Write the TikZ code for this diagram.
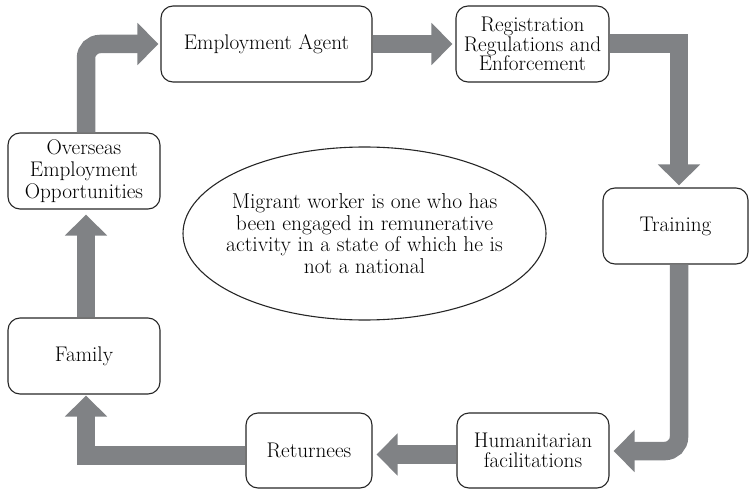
\documentclass[tikz,border=0pt]{standalone}
\usetikzlibrary{arrows.meta,calc,shapes.geometric}
\definecolor{arrowgray}{RGB}{128,130,133}
\begin{document}
\begin{tikzpicture}[x=1pt,y=-1pt,
  box/.style={draw=black!85, line width=1.1pt, rounded corners=12pt, align=center,
    inner sep=0pt, font=\fontsize{21.2}{21.7}\selectfont},
  bigarrow/.style={draw=arrowgray, line width=18.5pt,
    -{Triangle[length=21pt,width=41pt]}}
]
\useasboundingbox (0,0) rectangle (749,489);
\node[box, minimum width=211pt, minimum height=76pt] (agent) at (266.5,44) {Employment Agent};
\node[box, minimum width=153pt, minimum height=76pt, font=\fontsize{21.2}{19.5}\selectfont] (reg) at (532.5,44) {Registration\\Regulations and\\Enforcement};
\node[box, minimum width=145pt, minimum height=76pt] (train) at (675.5,226) {Training};
\node[box, minimum width=152pt, minimum height=75pt, font=\fontsize{21.2}{20}\selectfont] (hum) at (533,450.5) {Humanitarian\\facilitations};
\node[box, minimum width=126pt, minimum height=75pt] (ret) at (309,450.5) {Returnees};
\node[box, minimum width=152pt, minimum height=76pt] (fam) at (84,356) {Family};
\node[box, minimum width=152pt, minimum height=76pt] (over) at (84,171) {Overseas\\Employment\\Opportunities};
\node[ellipse, draw=black!85, line width=1.1pt, minimum width=363pt, minimum height=173pt,
  inner xsep=-40pt, inner ysep=0pt, align=center, font=\fontsize{21.5}{21.7}\selectfont] (def) at (364.5,233.5)
  {Migrant worker is one who has\\been engaged in remunerative\\activity in a state of which he is\\not a national};

\draw[bigarrow, rounded corners=14pt] ($(over.north)+(2,0)$) |- ($(agent.west)+(-2,0)$);
\draw[bigarrow] (agent.east) -- ($(reg.west)+(-3,0)$);
\draw[bigarrow] ($(reg.east)+(0,-0.5)$) -| ($(train.north)+(3.5,-2)$);
\draw[bigarrow, rounded corners=14pt] ($(train.south)+(3.5,0)$) |- ($(hum.east)+(4,0.5)$);
\draw[bigarrow] ($(hum.west)+(0,4)$) -- ($(ret.east)+(4,4)$);
\draw[bigarrow] ($(ret.west)+(0,5)$) -| ($(fam.south)+(2,1)$);
\draw[bigarrow] ($(fam.north)+(2,0)$) -- ($(over.south)+(2,5)$);
\end{tikzpicture}
\end{document}
